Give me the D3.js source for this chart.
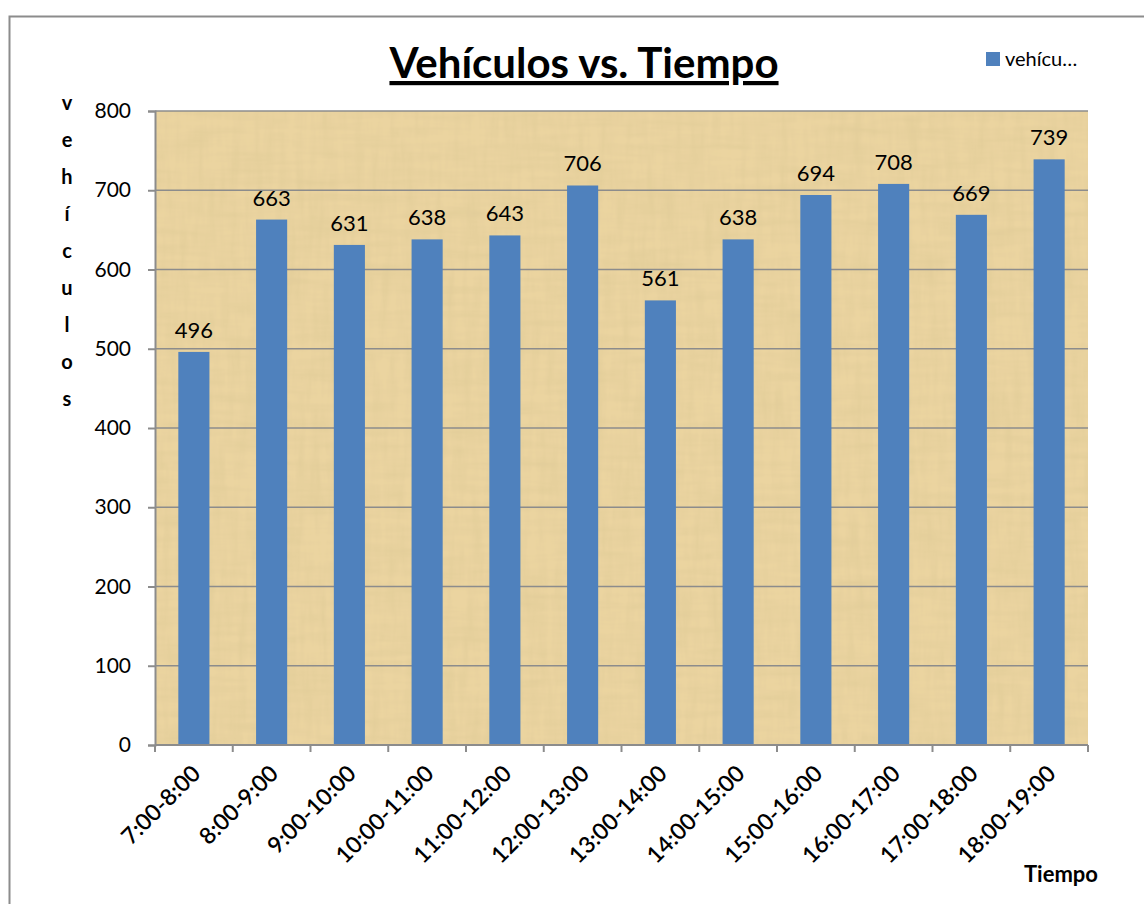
<!DOCTYPE html>
<html>
<head>
<meta charset="utf-8">
<script src="https://cdn.jsdelivr.net/npm/d3@7"></script>
<style>
  body { margin: 0; background: #fff; }
  text { font-family: Lato, "Open Sans", sans-serif; fill: #000; }
</style>
</head>
<body>
<svg id="chart"></svg>
<script>
const categories = ['7:00-8:00', '8:00-9:00', '9:00-10:00', '10:00-11:00', '11:00-12:00', '12:00-13:00',
  '13:00-14:00', '14:00-15:00', '15:00-16:00', '16:00-17:00', '17:00-18:00', '18:00-19:00'];
const vehiculos = [496, 663, 631, 638, 643, 706, 561, 638, 694, 708, 669, 739];
const yTicks = [0, 100, 200, 300, 400, 500, 600, 700, 800];

const width = 1144, height = 904;
const margin = { top: 111, right: 56, bottom: 159, left: 155 };
const w = width - margin.left - margin.right;
const h = height - margin.top - margin.bottom;

const svg = d3.select('#chart').attr('width', width).attr('height', height);

// papyrus-like texture for the plot area
const defs = svg.append('defs');
const filt = defs.append('filter').attr('id', 'paper').attr('x', 0).attr('y', 0).attr('width', 1).attr('height', 1);
filt.append('feTurbulence').attr('type', 'fractalNoise').attr('baseFrequency', '0.12 0.015').attr('numOctaves', 3).attr('seed', 7).attr('result', 'n1');
filt.append('feTurbulence').attr('type', 'fractalNoise').attr('baseFrequency', '0.015 0.12').attr('numOctaves', 3).attr('seed', 3).attr('result', 'n2');
filt.append('feBlend').attr('in', 'n1').attr('in2', 'n2').attr('mode', 'multiply').attr('result', 'noise');
filt.append('feColorMatrix').attr('in', 'noise').attr('type', 'matrix')
  .attr('values', '0 0 0 0 0.6  0 0 0 0 0.5  0 0 0 0 0.25  -0.6 0 0 0 0.35').attr('result', 'tint');
filt.append('feComposite').attr('in', 'tint').attr('in2', 'SourceGraphic').attr('operator', 'atop');

svg.append('rect')
  .attr('x', 9.5).attr('y', 16.5).attr('width', 1140).attr('height', 900)
  .attr('fill', 'none').attr('stroke', '#8c8c8c').attr('stroke-width', 2);

const g = svg.append('g').attr('transform', `translate(${margin.left},${margin.top})`);

const x = d3.scaleBand().domain(categories).range([0, w]).paddingInner(0.6).paddingOuter(0.3);
const y = d3.scaleLinear().domain([0, 800]).range([h, 0]);

g.append('rect').attr('width', w).attr('height', h).attr('fill', '#ebd4a0').attr('filter', 'url(#paper)');

// gridlines
g.append('g')
  .selectAll('line').data(yTicks.slice(1)).join('line')
  .attr('x1', 0).attr('x2', w)
  .attr('y1', d => y(d)).attr('y2', d => y(d))
  .attr('stroke', '#8c8c8c').attr('stroke-width', 1.5);

// bars
g.selectAll('.bar').data(vehiculos).join('rect')
  .attr('class', 'bar')
  .attr('x', (d, i) => x(categories[i]))
  .attr('y', d => y(d))
  .attr('width', x.bandwidth())
  .attr('height', d => h - y(d))
  .attr('fill', '#4f81bd');

// data labels
g.selectAll('.lbl').data(vehiculos).join('text')
  .attr('x', (d, i) => x(categories[i]) + x.bandwidth() / 2)
  .attr('y', d => y(d) - 14)
  .attr('text-anchor', 'middle')
  .style('font-size', '22px')
  .text(d => d);

// y axis
const yAxis = g.append('g')
  .call(d3.axisLeft(y).tickValues(yTicks).tickSize(7).tickPadding(17));
yAxis.select('.domain').attr('stroke', '#8c8c8c').attr('stroke-width', 2);
yAxis.selectAll('line').attr('stroke', '#8c8c8c').attr('stroke-width', 2);
yAxis.selectAll('text').style('font-size', '21px').style('font-family', 'Lato, "Open Sans", sans-serif').attr('fill', '#000');

// x axis with ticks at band boundaries
const bounds = d3.range(categories.length + 1).map(i => i * w / categories.length);
g.append('line').attr('x1', 0).attr('x2', w).attr('y1', h).attr('y2', h)
  .attr('stroke', '#8c8c8c').attr('stroke-width', 2);
g.append('g').selectAll('line').data(bounds).join('line')
  .attr('x1', d => d).attr('x2', d => d).attr('y1', h).attr('y2', h + 7)
  .attr('stroke', '#8c8c8c').attr('stroke-width', 2);

g.append('g').selectAll('text').data(categories).join('text')
  .attr('transform', d => `translate(${x(d) + x.bandwidth() / 2 + 8},${h + 30}) rotate(-45)`)
  .attr('text-anchor', 'end')
  .style('font-size', '23px')
  .style('font-weight', 600)
  .text(d => d);

// title
svg.append('text')
  .attr('x', 584).attr('y', 78)
  .attr('text-anchor', 'middle')
  .style('font-size', '42px').style('font-weight', 'bold')
  .style('text-decoration', 'underline')
  .text('Vehículos vs. Tiempo');

// y axis title, stacked letters
svg.append('g').selectAll('text').data('vehículos'.split('')).join('text')
  .attr('x', 67).attr('y', (d, i) => 110 + i * 37)
  .attr('text-anchor', 'middle')
  .style('font-size', '20px').style('font-weight', 'bold')
  .text(d => d);

// x axis title
svg.append('text')
  .attr('x', 1098).attr('y', 882)
  .attr('text-anchor', 'end')
  .style('font-size', '22px').style('font-weight', 'bold')
  .text('Tiempo');

// legend
svg.append('rect').attr('x', 986).attr('y', 52).attr('width', 14).attr('height', 14).attr('fill', '#4f81bd');
svg.append('text').attr('x', 1005).attr('y', 66).style('font-size', '20px').text('vehícu…');
</script>
</body>
</html>
